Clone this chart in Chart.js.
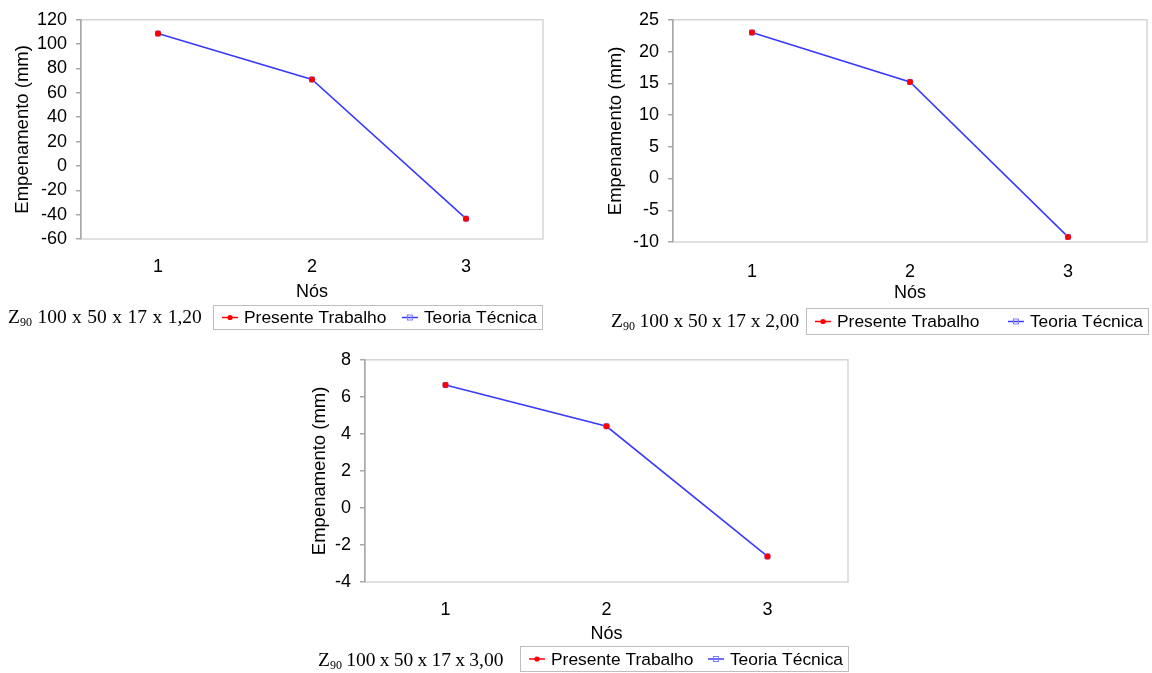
<!DOCTYPE html>
<html>
<head>
<meta charset="utf-8">
<script src="https://cdn.jsdelivr.net/npm/chart.js@4/dist/chart.umd.min.js"></script>
<style>
  html, body { margin: 0; padding: 0; background: #fff; }
  body { width: 1152px; height: 673px; position: relative; overflow: hidden; }
  canvas { position: absolute; }
  .caption {
    position: absolute;
    font-family: "Liberation Serif", "Times New Roman", serif;
    font-size: 19.5px;
    line-height: 20px;
    color: #000;
    white-space: nowrap;
  }
  .caption sub { font-size: 12px; vertical-align: baseline; position: relative; top: 3px; }
</style>
</head>
<body>
<canvas id="c1" width="560" height="340" style="left:0px;top:0px;"></canvas>
<canvas id="c2" width="558" height="345" style="left:594px;top:0px;"></canvas>
<canvas id="c3" width="560" height="333" style="left:297px;top:340px;"></canvas>

<div class="caption" style="left:8px;top:307px;word-spacing:0.6px;">Z<sub>90</sub> 100 x 50 x 17 x 1,20</div>
<div class="caption" style="left:611px;top:311px;word-spacing:-0.2px;">Z<sub>90</sub> 100 x 50 x 17 x 2,00</div>
<div class="caption" style="left:318px;top:650px;word-spacing:-0.6px;">Z<sub>90</sub> 100 x 50 x 17 x 3,00</div>

<script>
// Nodes along the member
const nodes = ['1', '2', '3'];

// Warping (mm) per section thickness
const presente120 = [108.7, 71.0, -43.3];
const teoria120   = [108.7, 71.0, -43.3];
const presente200 = [23.0, 15.2, -9.2];
const teoria200   = [23.0, 15.2, -9.2];
const presente300 = [6.64, 4.41, -2.62];
const teoria300   = [6.64, 4.41, -2.62];

// Y axis tick values
const yTicks120 = [-60, -40, -20, 0, 20, 40, 60, 80, 100, 120];
const yTicks200 = [-10, -5, 0, 5, 10, 15, 20, 25];
const yTicks300 = [-4, -2, 0, 2, 4, 6, 8];

const FAMILY = '"Liberation Sans", Arial, sans-serif';
const tickFont = { family: FAMILY, size: 18 };
const titleFont = { family: FAMILY, size: 18.5 };
const AXIS_GREY = '#a8a8a8';

// light grey frame around the plot area
const plotFrame = {
  id: 'plotFrame',
  beforeDraw(chart) {
    const { ctx, chartArea: a } = chart;
    ctx.save();
    ctx.strokeStyle = '#d6d6d6';
    ctx.lineWidth = 1.5;
    ctx.strokeRect(a.left, a.top, a.right - a.left, a.bottom - a.top);
    ctx.restore();
  }
};

function drawSymbol(ctx, ds, x, cy) {
  ctx.save();
  ctx.strokeStyle = ds.borderColor;
  ctx.lineWidth = 1.5;
  ctx.beginPath();
  ctx.moveTo(x, cy);
  ctx.lineTo(x + 16, cy);
  ctx.stroke();
  if (ds.pointStyle === 'rect') {
    ctx.strokeStyle = ds.pointBorderColor;
    ctx.lineWidth = 1;
    ctx.strokeRect(x + 5.5, cy - 2.5, 5, 5);
  } else {
    ctx.fillStyle = ds.pointBackgroundColor;
    ctx.beginPath();
    ctx.arc(x + 8, cy, 2.6, 0, Math.PI * 2);
    ctx.fill();
  }
  ctx.restore();
}

// boxed legend under the plot, first entry at the left, second at the right
const framedLegend = {
  id: 'framedLegend',
  afterDraw(chart, args, opts) {
    const { ctx } = chart;
    const left = opts.left - opts.ox, right = opts.right - opts.ox;
    const top = opts.top - opts.oy, bottom = opts.bottom - opts.oy;
    const ds = chart.data.datasets;
    ctx.save();
    ctx.strokeStyle = '#bdbdbd';
    ctx.lineWidth = 1;
    ctx.strokeRect(left + 0.5, top + 0.5, right - left - 1, bottom - top - 1);
    ctx.font = '17.4px ' + FAMILY;
    ctx.fillStyle = '#000';
    ctx.textBaseline = 'middle';
    ctx.textAlign = 'left';
    const cy = (top + bottom) / 2;
    const x1 = left + 9;
    drawSymbol(ctx, ds[0], x1, cy);
    ctx.fillText(ds[0].label, x1 + 22, cy + 1);
    const w2 = ctx.measureText(ds[1].label).width;
    const tx2 = right - 6 - w2;
    drawSymbol(ctx, ds[1], tx2 - 22, cy);
    ctx.fillText(ds[1].label, tx2, cy + 1);
    ctx.restore();
  }
};

function buildChart(id, spec) {
  return new Chart(document.getElementById(id), {
    type: 'line',
    data: {
      labels: nodes,
      datasets: [
        {
          // plotted over the other series; its line lies under the blue one
          label: 'Presente Trabalho',
          data: spec.presente,
          borderColor: '#ff0000',
          backgroundColor: '#ff0000',
          borderWidth: 1.5,
          showLine: false,
          pointStyle: 'circle',
          pointRadius: 3,
          pointBorderWidth: 0,
          pointBackgroundColor: '#ff0000',
          pointBorderColor: '#ff0000',
          order: 1
        },
        {
          label: 'Teoria Técnica',
          data: spec.teoria,
          borderColor: '#3a3aff',
          backgroundColor: 'rgba(120,120,255,0.25)',
          borderWidth: 1.6,
          pointStyle: 'rect',
          pointRadius: 3.5,
          pointBorderWidth: 1,
          pointBackgroundColor: 'rgba(120,120,255,0.25)',
          pointBorderColor: '#7a7aff',
          order: 2
        }
      ]
    },
    options: {
      responsive: false,
      animation: false,
      devicePixelRatio: 1,
      layout: { padding: { left: 0, right: spec.padRight, top: spec.padTop, bottom: spec.padBottom } },
      plugins: {
        legend: { display: false },
        tooltip: { enabled: false },
        framedLegend: spec.legend
      },
      scales: {
        x: {
          type: 'category',
          offset: true,
          grid: { display: false, drawTicks: false },
          border: { display: false },
          ticks: { padding: spec.xPad, font: tickFont, color: '#000', autoSkip: false },
          title: { display: true, text: 'Nós', font: tickFont, color: '#000', padding: 0 },
          afterFit: s => { s.height = spec.xH; }
        },
        y: {
          min: spec.yTicks[0],
          max: spec.yTicks[spec.yTicks.length - 1],
          grid: { drawOnChartArea: false, drawTicks: true, tickLength: 5, color: AXIS_GREY, lineWidth: 1.5 },
          border: { display: true, color: AXIS_GREY, width: 1.5 },
          ticks: { padding: 9, font: tickFont, color: '#000', autoSkip: false },
          afterBuildTicks: s => { s.ticks = spec.yTicks.map(v => ({ value: v })); },
          title: {
            display: true, text: 'Empenamento (mm)', font: titleFont, color: '#000',
            padding: { top: spec.yTitlePad, bottom: 0 }
          },
          afterFit: s => { s.width = spec.yW; }
        }
      }
    },
    plugins: [plotFrame, framedLegend]
  });
}

buildChart('c1', {
  presente: presente120, teoria: teoria120, yTicks: yTicks120,
  padRight: 17, padTop: 16, padBottom: 37.5, xH: 63.5, xPad: 17, yW: 81, yTitlePad: 11.5,
  legend: { ox: 0, oy: 0, left: 213, right: 543, top: 305, bottom: 330 }
});

buildChart('c2', {
  presente: presente200, teoria: teoria200, yTicks: yTicks200,
  padRight: 3, padTop: 15, padBottom: 41.5, xH: 61.5, xPad: 19, yW: 79, yTitlePad: 11,
  legend: { ox: 594, oy: 0, left: 806, right: 1149, top: 308, bottom: 335 }
});

buildChart('c3', {
  presente: presente300, teoria: teoria300, yTicks: yTicks300,
  padRight: 9, padTop: 15, padBottom: 28.5, xH: 62.5, xPad: 17, yW: 68, yTitlePad: 11.5,
  legend: { ox: 297, oy: 340, left: 520, right: 849, top: 646, bottom: 672 }
});
</script>
</body>
</html>
